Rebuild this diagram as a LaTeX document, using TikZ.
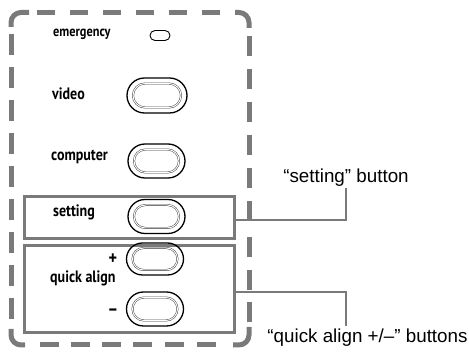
\documentclass[tikz,border=0pt]{standalone}
\usepackage{fontspec}
\setmainfont{Liberation Sans}
\newfontfamily\panelfont[FakeStretch=0.85]{PT Sans}
\usetikzlibrary{shapes.misc}
\definecolor{pat}{gray}{0.48}
\tikzset{
  framepart/.style={draw=pat, line width=5pt},
  groupbox/.style={draw=pat, line width=3pt},
  leader/.style={draw=pat, line width=2pt},
  btn/.style={rounded rectangle, draw=black, line width=1.3pt, minimum width=57pt, minimum height=34pt, inner sep=0pt},
  btnin/.style={rounded rectangle, draw=black!80, line width=0.45pt, double=white, double distance=1pt, minimum width=45pt, minimum height=23pt, inner sep=0pt},
  smallbtn/.style={rounded rectangle, draw=black, line width=0.9pt, minimum width=20pt, minimum height=10pt, inner sep=0pt},
  plabel/.style={font=\panelfont\bfseries\fontsize{16.5}{17}\selectfont, inner sep=0pt},
  signlabel/.style={font=\panelfont\bfseries\fontsize{19}{19}\selectfont, inner sep=0pt, anchor=base, text height=11pt, text depth=0pt},
  callout/.style={font=\fontsize{18.8}{19}\selectfont, inner sep=0pt}
}
\begin{document}
\begin{tikzpicture}[x=1pt,y=-1pt]
\useasboundingbox (0,0) rectangle (469,352);
% outer dashed frame: corners
\draw[framepart] (11,27) -- (11,22.5) arc[start angle=180, end angle=270, radius=10] -- (29,12.5);
\draw[framepart] (235,12.5) -- (239,12.5) arc[start angle=270, end angle=360, radius=10] -- (249,28);
\draw[framepart] (249,327) -- (249,335) arc[start angle=0, end angle=90, radius=10] -- (233,345);
\draw[framepart] (25,345) -- (21,345) arc[start angle=90, end angle=180, radius=10] -- (11,329);
% outer dashed frame: sides
\foreach \x in {37,70,103,136,169,202} \draw[framepart] (\x,12.5) -- ++(18,0);
\foreach \x in {40,71,102,133,165,197} \draw[framepart] (\x,345) -- ++(19,0);
\foreach \y in {34,67,100,133,166,199,232,265,298} \draw[framepart] (11,\y) -- ++(0,21);
\foreach \y in {36,69,102,135,168,201,237,270,302} \draw[framepart] (249,\y) -- ++(0,20);
% group boxes
\node[groupbox, minimum width=210pt, minimum height=42pt, inner sep=0pt] (setbox) at (129,218) {};
\node[groupbox, minimum width=210pt, minimum height=87pt, inner sep=0pt] (qabox) at (129,289.5) {};
% labels
\node[plabel, anchor=base west, font=\panelfont\bfseries\fontsize{14.5}{15}\selectfont] (lemerg) at (53,37) {emergency};
\node[plabel, anchor=base west] (lvideo) at (52,100) {video};
\node[plabel, anchor=base west] (lcomp) at (51,161) {computer};
\node[plabel, anchor=base west] (lset) at (53,217) {setting};
\node[plabel, anchor=base west] (lqa) at (50,283) {quick align};
\node[signlabel] (lplus) at (113,265) {+};
\node[signlabel] (lminus) at (113,316) {–};
% buttons
\node[smallbtn] (bemerg) at (160,35.5) {};
\node[btn, minimum width=60pt, minimum height=35pt] (bvideo) at (157,95.5) {};
\node[btnin, minimum width=48pt, minimum height=24pt] at (bvideo) {};
\node[btn] (bcomp) at (156.5,161) {};
\node[btnin] at (bcomp) {};
\node[btn] (bset) at (156.5,216.5) {};
\node[btnin] at (bset) {};
\node[btn, minimum height=32pt] (bplus) at (155,259) {};
\node[btnin, minimum height=22pt] at (bplus) {};
\node[btn] (bminus) at (155,309) {};
\node[btnin] at (bminus) {};
% callouts
\node[callout] (cset) at (346,178) {“setting” button};
\node[callout] (cqa) at (367.5,338) {“quick align +/–” buttons};
\coordinate (k1) at (346,220);
\coordinate (k2) at (346,292);
\draw[leader] (setbox.east |- k1) -- (k1) -- ([yshift=-1pt]cset.south -| k1);
\draw[leader] (qabox.east |- k2) -- (k2) -- ([yshift=3pt]cqa.north -| k2);
\end{tikzpicture}
\end{document}
